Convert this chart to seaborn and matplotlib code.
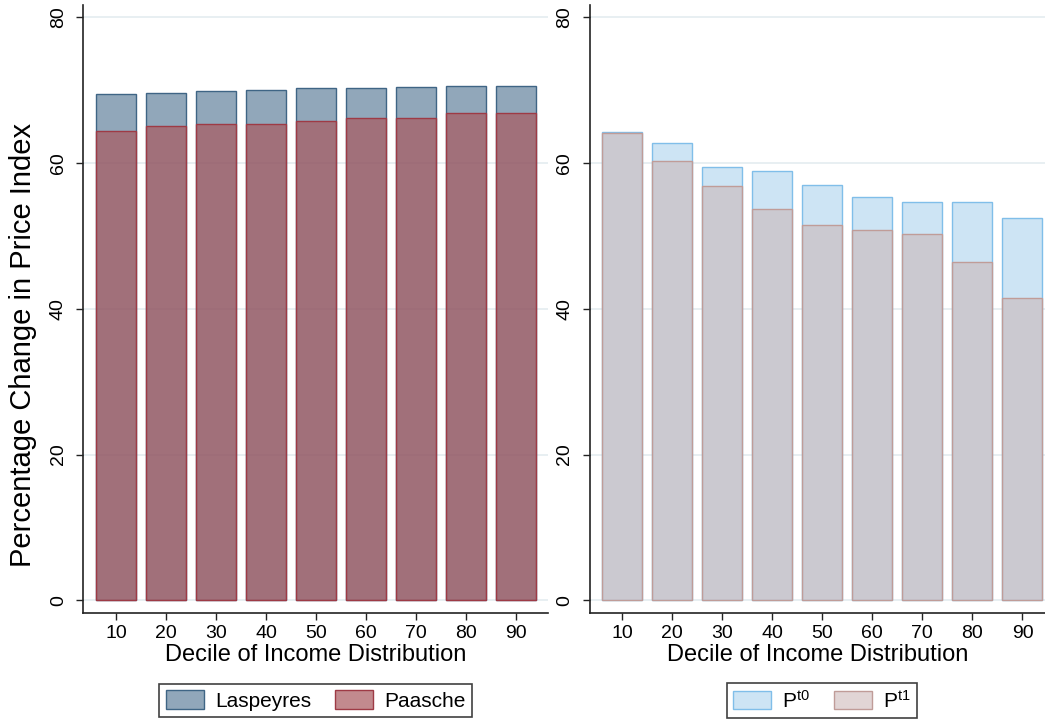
import matplotlib
matplotlib.use("Agg")
import matplotlib.pyplot as plt
from matplotlib.colors import to_rgba
from matplotlib.patches import Patch
import numpy as np
import pandas as pd
import seaborn as sns

# data
deciles = [10, 20, 30, 40, 50, 60, 70, 80, 90]
laspeyres = [69.5, 69.6, 69.8, 70.0, 70.3, 70.3, 70.35, 70.55, 70.6]
paasche = [64.4, 65.1, 65.3, 65.4, 65.8, 66.1, 66.2, 66.8, 66.9]
p_t0 = [64.2, 62.8, 59.5, 58.9, 57.0, 55.3, 54.7, 54.6, 52.4]
p_t1 = [64.1, 60.2, 56.8, 53.7, 51.5, 50.8, 50.3, 46.4, 41.5]
yticks = [0, 20, 40, 60, 80]

df = pd.DataFrame({"decile": deciles, "Laspeyres": laspeyres, "Paasche": paasche,
                   "Pt0": p_t0, "Pt1": p_t1})

sns.set_theme(style="ticks")
plt.rcParams["font.family"] = ["Liberation Sans", "DejaVu Sans"]
plt.rcParams["mathtext.default"] = "regular"
plt.rcParams["text.color"] = "black"
plt.rcParams["axes.labelcolor"] = "black"
plt.rcParams["xtick.color"] = "black"
plt.rcParams["ytick.color"] = "black"

# colours (stata-ish, semi transparent)
las_face = to_rgba("#1A476F", 0.48)
las_edge = "#3F6585"
paa_face = to_rgba("#A9595F", 0.70)
paa_edge = "#9E3A45"
t0_face = "#CDE4F4"
t0_edge = "#80BEE9"
t1_face = to_rgba("#CAB4B4", 0.55)
t1_edge = "#C09C98"

fig = plt.figure(figsize=(10.45, 7.19), dpi=100)
ax1 = fig.add_axes([0.0799, 0.1478, 0.4445, 0.8446])
ax2 = fig.add_axes([0.5646, 0.1478, 0.4354, 0.8446])


def draw(ax, col_a, col_b, face_a, edge_a, face_b, edge_b):
	sns.barplot(data=df, x="decile", y=col_a, ax=ax, width=0.8, saturation=1,
	            facecolor=face_a, edgecolor=edge_a, linewidth=1)
	sns.barplot(data=df, x="decile", y=col_b, ax=ax, width=0.8, saturation=1,
	            facecolor=face_b, edgecolor=edge_b, linewidth=1)
	ax.set_ylim(-1.7, 81.6)
	ax.set_yticks(yticks)
	ax.yaxis.grid(True, color="#E6EEF1", lw=1.3)
	ax.set_axisbelow(True)
	ax.tick_params(axis="y", labelrotation=90, length=5, width=1, pad=7,
	               labelsize=14, color="#222222")
	ax.tick_params(axis="x", length=5, width=1, pad=4, labelsize=14, color="#222222")
	for lab in ax.get_yticklabels():
		lab.set_va("center")
	ax.set_xlabel("Decile of Income Distribution", fontsize=17, labelpad=1)
	ax.set_ylabel("")
	for s in ["top", "right"]:
		ax.spines[s].set_visible(False)
	for s in ["left", "bottom"]:
		ax.spines[s].set_color("#222222")
		ax.spines[s].set_linewidth(1.2)


draw(ax1, "Laspeyres", "Paasche", las_face, las_edge, paa_face, paa_edge)
ax1.set_xlim(-0.65, 8.64)
ax1.set_ylabel("Percentage Change in Price Index", fontsize=21)
ax1.yaxis.set_label_coords(-0.100, 0.441)

draw(ax2, "Pt0", "Pt1", t0_face, t0_edge, t1_face, t1_edge)
ax2.set_xlim(-0.64, 8.45)

leg_kw = dict(loc="center", ncol=2, fontsize=15, frameon=True, fancybox=False,
              handlelength=1.83, handleheight=0.96, columnspacing=1.15, borderpad=0.3,
              handletextpad=0.53)
l1 = fig.legend(handles=[Patch(facecolor=las_face, edgecolor=las_edge, label="Laspeyres"),
                         Patch(facecolor=paa_face, edgecolor=paa_edge, label="Paasche")],
                bbox_to_anchor=(315.5 / 1045, 1 - 700.5 / 719), **leg_kw)
l2 = fig.legend(handles=[Patch(facecolor=t0_face, edgecolor=t0_edge, label="P$^{t0}$"),
                         Patch(facecolor=t1_face, edgecolor=t1_edge, label="P$^{t1}$")],
                bbox_to_anchor=(822 / 1045, 1 - 700.5 / 719), **leg_kw)
for leg in (l1, l2):
	leg.get_frame().set_edgecolor("#111111")
	leg.get_frame().set_linewidth(1.2)

fig.savefig("out.png", dpi=100)
